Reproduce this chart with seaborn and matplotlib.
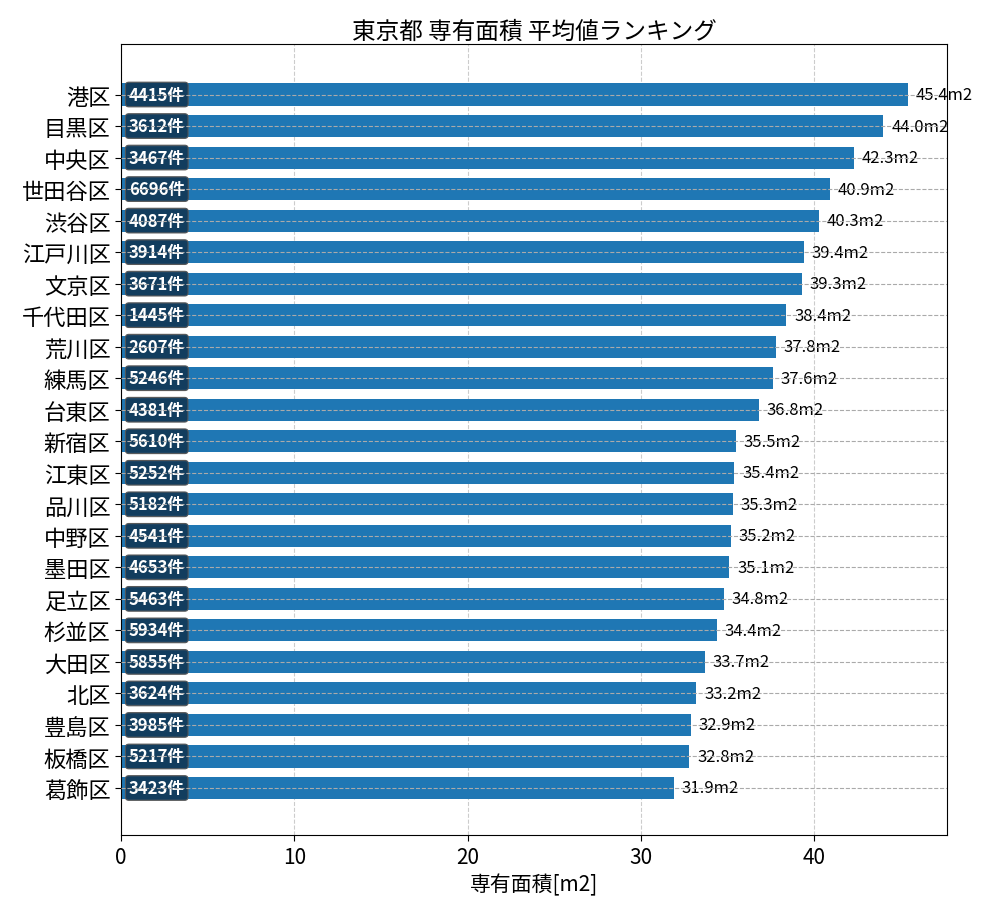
import matplotlib
matplotlib.use("Agg")
import matplotlib.pyplot as plt
import seaborn as sns
import pandas as pd

# data
wards = ["港区", "目黒区", "中央区", "世田谷区", "渋谷区", "江戸川区", "文京区", "千代田区",
         "荒川区", "練馬区", "台東区", "新宿区", "江東区", "品川区", "中野区", "墨田区",
         "足立区", "杉並区", "大田区", "北区", "豊島区", "板橋区", "葛飾区"]
mean_area = [45.4, 44.0, 42.3, 40.9, 40.3, 39.4, 39.3, 38.4,
             37.8, 37.6, 36.8, 35.5, 35.4, 35.3, 35.2, 35.1,
             34.8, 34.4, 33.7, 33.2, 32.9, 32.8, 31.9]
counts = [4415, 3612, 3467, 6696, 4087, 3914, 3671, 1445,
          2607, 5246, 4381, 5610, 5252, 5182, 4541, 4653,
          5463, 5934, 5855, 3624, 3985, 5217, 3423]

df = pd.DataFrame({"ward": wards, "area": mean_area, "count": counts})

sns.set_style("white")
plt.rcParams["font.family"] = ["Noto Sans CJK JP", "DejaVu Sans"]
for key in ["text.color", "axes.labelcolor", "xtick.color", "ytick.color"]:
    plt.rcParams[key] = "black"

fig, ax = plt.subplots(figsize=(10, 9.2), dpi=100)
sns.barplot(data=df, x="area", y="ward", orient="h", color="#1f77b4",
            saturation=1, width=0.7, linewidth=0, ax=ax, zorder=2)

n = len(df)
ax.set_ylim(n - 1 + 1.5, -1.6)
ax.set_xlim(0, max(mean_area) * 1.05)

# vertical grid behind bars, horizontal dashed lines on top
ax.grid(axis="x", linestyle="--", color="#cccccc", linewidth=0.8, zorder=0)
ax.set_axisbelow(True)
for i in range(n):
    ax.axhline(i, linestyle="--", color="#aaaaaa", linewidth=0.8, zorder=5)

for i, row in df.iterrows():
    ax.text(row["area"] + 0.45, i, f"{row['area']:.1f}m2", va="center", ha="left",
            fontsize=12, zorder=4, clip_on=False)
    ax.text(0.45, i, f"{row['count']}件", va="center", ha="left", fontsize=12,
            fontweight="bold", color="white", zorder=4,
            bbox=dict(boxstyle="round,pad=0.2", facecolor="#123a5a", edgecolor="#555555",
                      alpha=0.95, linewidth=0.8))

for s in ax.spines.values():
    s.set_visible(True)
    s.set_color("black")

ax.tick_params(axis="y", labelsize=16, length=4, left=True)
ax.tick_params(axis="x", labelsize=15, length=4, bottom=True)
ax.set_ylabel("")
ax.set_xlabel("専有面積[m2]", fontsize=15)
ax.set_title("東京都 専有面積 平均値ランキング", fontsize=17, pad=4.5)

plt.subplots_adjust(left=0.121, right=0.947, top=0.951, bottom=0.091)
plt.savefig("out.png")
